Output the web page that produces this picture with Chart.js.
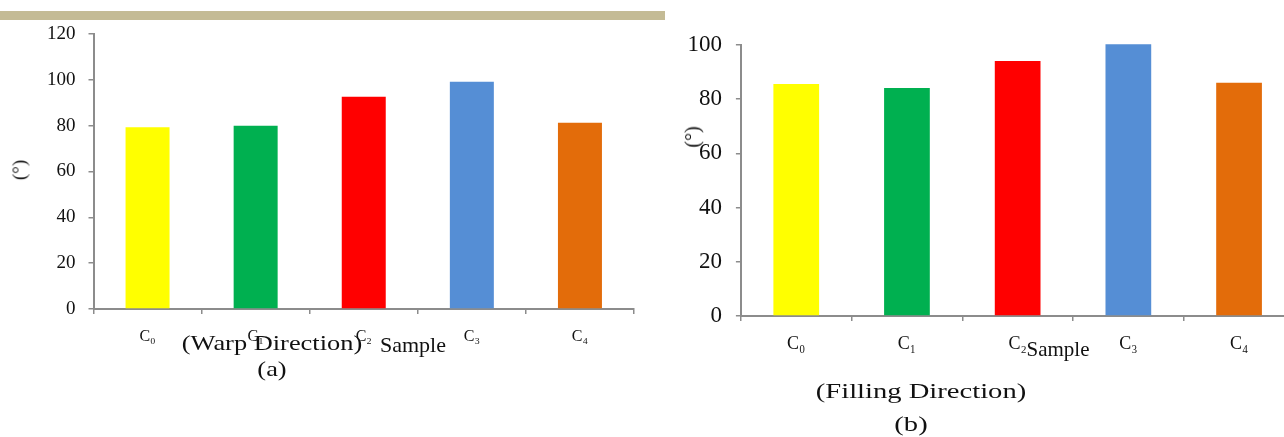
<!DOCTYPE html>
<html>
<head>
<meta charset="utf-8">
<script src="https://cdn.jsdelivr.net/npm/chart.js@4"></script>
<style>
  html, body { margin: 0; padding: 0; background: #fff; overflow: hidden; }
  body { width: 1284px; height: 437px; position: relative; font-family: "Liberation Serif", serif; color: #111; }
  .box { position: absolute; }
  .lbl { position: absolute; white-space: nowrap; line-height: 1; transform-origin: center center; }
  #strip { position: absolute; left: 0; top: 11px; width: 665px; height: 9px; background: #c4bb95; }
</style>
</head>
<body>
<div id="strip"></div>
<div class="box" style="left:0;top:0;width:665px;height:437px"><canvas id="warpChart"></canvas></div>
<div class="box" style="left:665px;top:0;width:640px;height:437px"><canvas id="fillChart"></canvas></div>

<div class="lbl" style="left:19px;top:170px;font-size:19px;transform:translate(-50%,-50%) rotate(-90deg)">(°)</div>
<div class="lbl" style="left:413px;top:345px;font-size:22px;transform:translate(-50%,-50%)">Sample</div>
<div class="lbl" style="left:272px;top:343px;font-size:22px;transform:translate(-50%,-50%) scaleX(1.2)">(Warp Direction)</div>
<div class="lbl" style="left:272px;top:369px;font-size:22px;transform:translate(-50%,-50%) scaleX(1.2)">(a)</div>

<div class="lbl" style="left:692px;top:137px;font-size:20px;transform:translate(-50%,-50%) rotate(-90deg)">(°)</div>
<div class="lbl" style="left:1058px;top:349px;font-size:21px;transform:translate(-50%,-50%)">Sample</div>
<div class="lbl" style="left:921px;top:391px;font-size:22px;transform:translate(-50%,-50%) scaleX(1.3)">(Filling Direction)</div>
<div class="lbl" style="left:911px;top:424px;font-size:22px;transform:translate(-50%,-50%) scaleX(1.3)">(b)</div>

<script>
const samples = ["C\u2080", "C\u2081", "C\u2082", "C\u2083", "C\u2084"];
const warpValues = [79.3, 80.0, 92.6, 99.2, 81.3];
const fillingValues = [85.6, 84.1, 94.1, 100.3, 86.1];
const warpTicks = [0, 20, 40, 60, 80, 100, 120];
const fillingTicks = [0, 20, 40, 60, 80, 100];
const barColors = ["#ffff00", "#00b050", "#ff0000", "#558ed5", "#e36c0a"];

const axisGray = "#8c8c8c";
const font = "Liberation Serif";

function makeChart(id, values, yTicks, opts) {
  const ctx = document.getElementById(id).getContext("2d");
  return new Chart(ctx, {
    type: "bar",
    data: {
      labels: samples,
      datasets: [{
        data: values,
        backgroundColor: barColors,
        borderWidth: 0,
        barPercentage: 1,
        categoryPercentage: opts.catPct,
        clip: false
      }]
    },
    options: {
      responsive: true,
      maintainAspectRatio: false,
      animation: false,
      layout: { padding: { top: opts.top, right: opts.right, left: 0, bottom: 0 } },
      plugins: {
        legend: { display: false },
        tooltip: { enabled: false }
      },
      scales: {
        x: {
          grid: { drawOnChartArea: false, drawTicks: true, tickLength: 5, color: axisGray, lineWidth: 1.5 },
          border: { color: axisGray, width: 2 },
          ticks: { color: "#111", font: { family: font, size: opts.xSize }, padding: opts.xPad, maxRotation: 0 },
          afterFit: (scale) => { scale.height = opts.xHeight; }
        },
        y: {
          min: yTicks[0],
          max: yTicks[yTicks.length - 1],
          afterBuildTicks: (scale) => { scale.ticks = yTicks.map((v) => ({ value: v })); },
          grid: { drawOnChartArea: false, drawTicks: true, tickLength: 5, color: axisGray, lineWidth: 1.5 },
          border: { color: axisGray, width: 2 },
          ticks: { color: "#111", font: { family: font, size: opts.ySize }, padding: opts.yPad },
          afterFit: (scale) => { scale.width = opts.yWidth; }
        }
      }
    }
  });
}

makeChart("warpChart", warpValues, warpTicks, {
  catPct: 0.407, top: 34, right: 31, xHeight: 128, yWidth: 93.5,
  xSize: 16, xPad: 13, ySize: 19, yPad: 13
});

makeChart("fillChart", fillingValues, fillingTicks, {
  catPct: 0.413, top: 45, right: 10.6, xHeight: 121, yWidth: 75.9,
  xSize: 18, xPad: 12, ySize: 23, yPad: 14
});
</script>
</body>
</html>
